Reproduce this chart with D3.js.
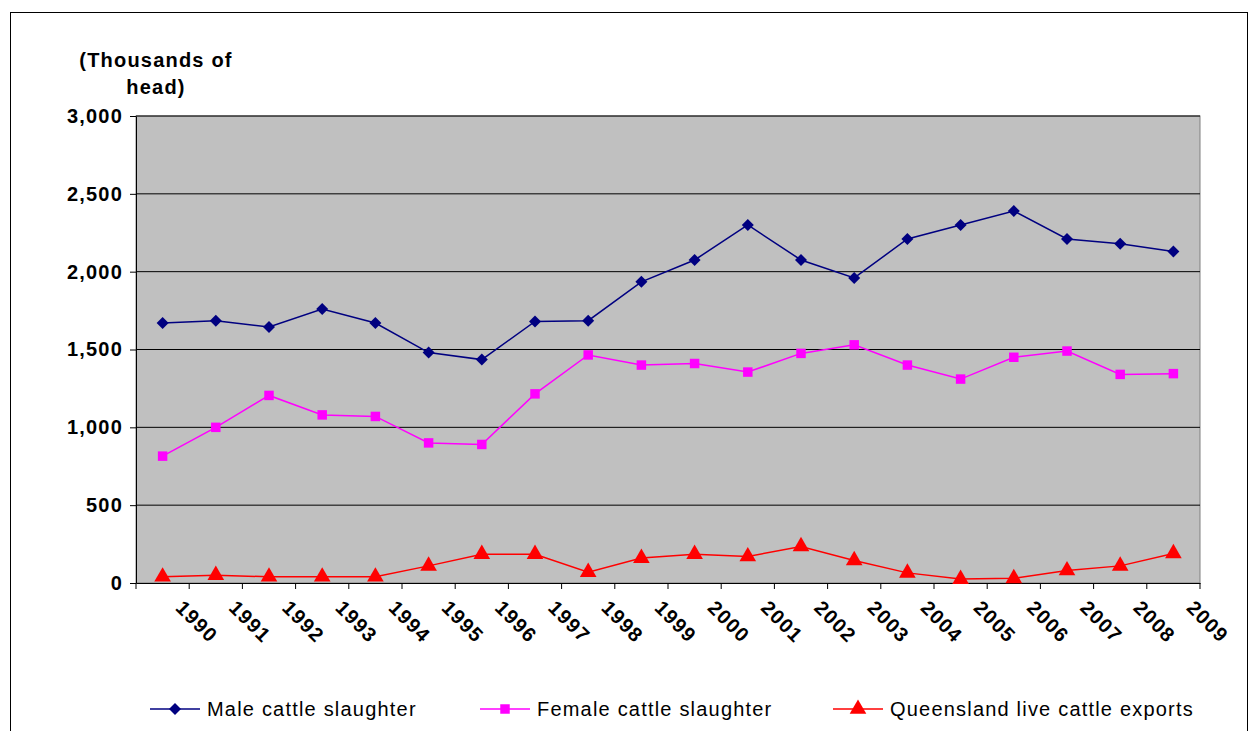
<!DOCTYPE html>
<html><head><meta charset="utf-8">
<script src="https://cdn.jsdelivr.net/npm/d3@7/dist/d3.min.js"></script>
<style>body{margin:0;background:#fff}text{font-family:Arial,"Liberation Sans",sans-serif;letter-spacing:1.2px}</style>
</head><body><svg id="c" width="1260" height="731"></svg>
<script>
const years = d3.range(1990, 2010).map(String);
const male = [1670,1685,1645,1760,1670,1480,1435,1680,1685,1935,2075,2300,2075,1960,2210,2300,2390,2210,2180,2130];
const female = [815,1000,1205,1080,1070,900,890,1215,1465,1400,1410,1355,1475,1530,1400,1310,1450,1490,1340,1345];
const qld = [40,50,40,40,40,110,185,185,70,160,185,170,235,145,65,25,30,80,110,190];
const yTicks = [0,500,1000,1500,2000,2500,3000];

const svg = d3.select("#c");
const L = 136, R = 1200, T = 116, B = 583;
svg.append("rect").attr("x", 10.5).attr("y", 12.5).attr("width", 1237).attr("height", 740)
  .attr("fill", "none").attr("stroke", "#000");

const x = d3.scaleBand().domain(years).range([L, R]);
const y = d3.scaleLinear().domain([0, 3000]).range([B, T]);

svg.append("rect").attr("x", L).attr("y", T).attr("width", R - L).attr("height", B - T)
  .attr("fill", "#c0c0c0").attr("stroke", "#808080");
svg.append("g").selectAll("line").data(yTicks.slice(1)).join("line")
  .attr("x1", L).attr("x2", R).attr("y1", d => y(d)).attr("y2", d => y(d)).attr("stroke", "#000");

const ya = svg.append("g").attr("transform", `translate(${L},0)`)
  .call(d3.axisLeft(y).tickValues(yTicks).tickFormat(d3.format(",")).tickSize(6).tickSizeOuter(0));
ya.selectAll("text").attr("font-size", 20).attr("font-weight", "bold").attr("dx", -4);

const xa = svg.append("g").attr("transform", `translate(0,${B})`)
  .call(d3.axisBottom(x).tickValues([]).tickSizeOuter(0));
xa.selectAll(".b").data(years.concat("end")).join("line").attr("class", "b")
  .attr("x1", (d, i) => L + i * x.step()).attr("x2", (d, i) => L + i * x.step())
  .attr("y1", 0).attr("y2", 6).attr("stroke", "#000");
svg.selectAll(".domain").attr("stroke", "#000");
svg.append("g").selectAll("text").data(years).join("text")
  .attr("transform", d => `translate(${x(d) + x.bandwidth() / 2 + 12},${B + 26}) rotate(45)`)
  .attr("font-size", 20).attr("font-weight", "bold").text(d => d);

svg.append("text").attr("x", 156).attr("y", 67).attr("text-anchor", "middle")
  .attr("font-size", 20).attr("font-weight", "bold").text("(Thousands of");
svg.append("text").attr("x", 156).attr("y", 94).attr("text-anchor", "middle")
  .attr("font-size", 20).attr("font-weight", "bold").text("head)");

const cx = d => x(d) + x.bandwidth() / 2;
const diamond = "M0,-6L6,0L0,6L-6,0Z";
const series = [
  { name: "Male cattle slaughter", data: male, color: "#000080", d: diamond },
  { name: "Female cattle slaughter", data: female, color: "#ff00ff", d: d3.symbol(d3.symbolSquare, 90)() },
  { name: "Queensland live cattle exports", data: qld, color: "#ff0000", d: d3.symbol(d3.symbolTriangle, 120)() }
];
const line = d3.line().x((d, i) => cx(years[i])).y(d => y(d));
series.forEach(s => {
  svg.append("path").datum(s.data).attr("d", line).attr("fill", "none")
    .attr("stroke", s.color).attr("stroke-width", 1.5);
  svg.append("g").selectAll("path").data(s.data).join("path")
    .attr("transform", (d, i) => `translate(${cx(years[i])},${y(d)})`)
    .attr("d", s.d).attr("fill", s.color);
});

const lx = [150, 480, 833];
series.forEach((s, i) => {
  const g = svg.append("g").attr("transform", `translate(${lx[i]},709)`);
  g.append("line").attr("x1", 0).attr("x2", 50).attr("stroke", s.color).attr("stroke-width", 1.5);
  g.append("path").attr("transform", "translate(25,0)").attr("d", s.d).attr("fill", s.color);
  g.append("text").attr("x", 57).attr("y", 7).attr("font-size", 20).text(s.name);
});
</script></body></html>
